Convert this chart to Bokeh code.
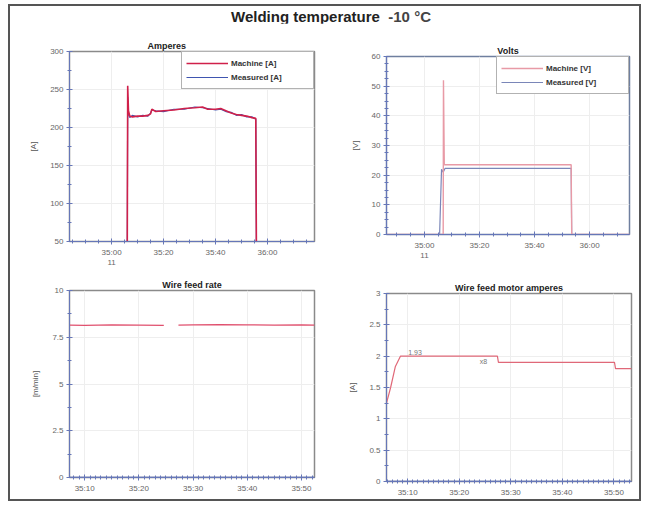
import numpy as np
from bokeh.plotting import figure
from bokeh.models import FixedTicker, Div, Label
from bokeh.layouts import column, row
from bokeh.embed import file_html
from bokeh.resources import INLINE

NAN = float("nan")

# ---------------- data (time in seconds after 11:35:00) ----------------
amp_t = [-16, 6.0, 6.2, 6.5, 7, 8, 10, 12, 14, 15, 15.5, 17, 20, 24, 28, 32, 35, 37, 40, 42, 44, 46, 48, 50, 52, 54, 55.5, 55.8, 78]
amp_machine = [0, 0, 255, 222, 215, 214, 215, 215, 216, 218, 224, 221, 222, 223, 225, 226, 227, 224, 224, 225, 222, 219, 217, 216, 215, 213, 212, 0, 0]
amp_measured = [0, 0, 240, 218, 213, 216, 214, 216, 215, 219, 223, 222, 221, 224, 224, 227, 226, 225, 223, 224, 221, 220, 216, 217, 214, 214, 211, 0, 0]

volt_t_machine = [-14, 6.8, 6.9, 7.2, 8, 30, 53.3, 53.5, 75]
volt_machine = [0, 0, 52, 23.5, 23.5, 23.5, 23.5, 0, 0]
volt_t_measured = [-14, 5.5, 6.2, 6.8, 7.5, 8.5, 30, 53.3, 53.5, 75]
volt_measured = [0, 0, 22, 21, 22.3, 22.3, 22.3, 22.3, 0, 0]

wf_t = [7.2, 10, 15, 20, 24.6, 25.0, 27.3, 30, 35, 40, 45, 50, 52.4]
wf_machine = [8.15, 8.14, 8.16, 8.15, 8.14, NAN, 8.15, 8.16, 8.17, 8.16, 8.15, 8.16, 8.15]
wf_measured = [0, 0, 0, 0, 0, 0, 0, 0, 0, 0, 0, 0, 0]

mot_t = [5.9, 6.7, 7.6, 8.6, 27.4, 27.6, 50.1, 50.3, 53.4]
mot_machine = [1.25, 1.5, 1.83, 2.0, 2.0, 1.9, 1.9, 1.8, 1.8]
mot_measured = [0, 0, 0, 0, 0, 0, 0, 0, 0]

top_ticks = [0, 20, 40, 60]
top_labels = ["35:00\n11", "35:20", "35:40", "36:00"]
bot_ticks = [10, 20, 30, 40, 50]
bot_labels = ["35:10", "35:20", "35:30", "35:40", "35:50"]

amp_yticks = [50, 100, 150, 200, 250, 300]
volt_yticks = [0, 10, 20, 30, 40, 50, 60]
wf_yticks = [0, 2.5, 5, 7.5, 10]
wf_ylabels = ["0", "2.5", "5", "7.5", "10"]
mot_yticks = [0, 0.5, 1, 1.5, 2, 2.5, 3]
mot_ylabels = ["0", "0.5", "1", "1.5", "2", "2.5", "3"]

FONT = "Liberation Sans"
AXIS_COL = "#6677b8"
RED = "#d0204a"
PINK = "#e89aa6"
BLUE = "#3f55b0"


def make_fig(title, fw, fh, bl, br, bt, bb, xr, yr):
    p = figure(frame_width=fw, frame_height=fh, x_range=xr, y_range=yr,
               output_backend="svg", toolbar_location=None,
               min_border_left=bl, min_border_right=br,
               min_border_top=bt, min_border_bottom=bb)
    p.title.text = title
    p.title.text_font = FONT
    p.title.text_font_size = "9px"
    p.title.text_font_style = "bold"
    p.title.text_color = "#222222"
    p.title.align = "center"
    p.title.standoff = 2
    p.outline_line_color = "#8a8a8a"
    p.outline_line_width = 1.5
    p.background_fill_color = "white"
    p.border_fill_color = "white"
    for ax in (p.xaxis[0], p.yaxis[0]):
        ax.axis_line_color = AXIS_COL
        ax.major_tick_line_color = AXIS_COL
        ax.minor_tick_line_color = AXIS_COL
        ax.major_tick_in = 3
        ax.major_tick_out = 3
        ax.minor_tick_in = 2
        ax.minor_tick_out = 2
        ax.major_label_text_font = FONT
        ax.major_label_text_font_size = "8px"
        ax.major_label_text_color = "#666666"
        ax.axis_label_text_font = FONT
        ax.axis_label_text_font_size = "8px"
        ax.axis_label_text_font_style = "normal"
        ax.axis_label_text_color = "#555555"
        ax.major_label_standoff = 3
        ax.axis_label_standoff = 9
    p.grid.grid_line_color = "#eeeeee"
    return p


def set_x(p, ticks, labels, minor):
    p.xaxis[0].ticker = FixedTicker(ticks=ticks, minor_ticks=minor)
    p.xaxis[0].major_label_overrides = {t: l for t, l in zip(ticks, labels)}
    p.xgrid[0].ticker = FixedTicker(ticks=ticks)


def set_y(p, ticks, labels, minor):
    p.yaxis[0].ticker = FixedTicker(ticks=ticks, minor_ticks=minor)
    if labels is not None:
        p.yaxis[0].major_label_overrides = {t: l for t, l in zip(ticks, labels)}
    p.ygrid[0].ticker = FixedTicker(ticks=ticks)


def legend_style(p):
    items = p.legend.items
    p.legend.items = [items[1], items[0]]
    p.legend.location = "top_right"
    p.legend.margin = 0
    p.legend.padding = 4
    p.legend.spacing = 0
    p.legend.glyph_width = 42
    p.legend.glyph_height = 14
    p.legend.label_width = 78
    p.legend.label_standoff = 3
    p.legend.label_text_font = FONT
    p.legend.label_text_font_size = "8px"
    p.legend.label_text_font_style = "bold"
    p.legend.label_text_color = "#333333"
    p.legend.border_line_color = "#666666"
    p.legend.border_line_width = 1
    p.legend.background_fill_alpha = 1


# ---------------- Amperes ----------------
p1 = make_fig("Amperes", 245, 190, 59, 10, 28, 32, (-16.2, 78.1), (50, 300))
p1.title.align = "left"
p1.title.offset = 78
set_x(p1, top_ticks, top_labels, list(np.arange(-15, 78, 5)))
set_y(p1, amp_yticks, None, list(np.arange(50, 301, 25)))
p1.yaxis[0].axis_label = "[A]"
p1.line(amp_t, amp_measured, color=BLUE, line_width=1.2, legend_label="Measured [A]")
p1.line(amp_t, amp_machine, color=RED, line_width=1.6, legend_label="Machine [A]")
legend_style(p1)

# ---------------- Volts ----------------
p2 = make_fig("Volts", 243, 178, 62, 10, 33, 36, (-13.8, 74.5), (0, 60))
set_x(p2, top_ticks, top_labels, list(np.arange(-10, 75, 5)))
set_y(p2, volt_yticks, None, list(np.arange(0, 61, 2.5)))
p2.yaxis[0].axis_label = "[V]"
p2.line(volt_t_measured, volt_measured, color="#7a86b8", line_width=1.2, legend_label="Measured [V]")
p2.line(volt_t_machine, volt_machine, color=PINK, line_width=1.4, legend_label="Machine [V]")
legend_style(p2)
p2.outline_line_color = "#6f7f9f"

# ---------------- Wire feed rate ----------------
p3 = make_fig("Wire feed rate", 245, 187, 57, 12, 17, 18, (7.2, 52.4), (0, 10))
set_x(p3, bot_ticks, bot_labels, list(np.arange(8, 53, 1)))
set_y(p3, wf_yticks, wf_ylabels, list(np.arange(0, 10.1, 1.25)))
p3.yaxis[0].axis_label = "[m/min]"
p3.line(wf_t, wf_measured, color=BLUE, line_width=1.5)
p3.line(wf_t, wf_machine, color="#e0506e", line_width=1.2)

# ---------------- Wire feed motor amperes ----------------
p4 = make_fig("Wire feed motor amperes", 245, 188, 62, 8, 23, 14, (5.9, 53.4), (0, 3))
set_x(p4, bot_ticks, bot_labels, list(np.arange(6, 54, 1)))
set_y(p4, mot_yticks, mot_ylabels, list(np.arange(0, 3.01, 0.25)))
p4.yaxis[0].axis_label = "[A]"
p4.line(mot_t, mot_measured, color=BLUE, line_width=1.5)
p4.line(mot_t, mot_machine, color="#e06878", line_width=1.2)
p4.add_layout(Label(x=mot_t[3] + 1.5, y=mot_machine[3], text="1.93", text_font=FONT,
                    text_font_size="7px", text_color="#777777", y_offset=1))
p4.add_layout(Label(x=24.0, y=mot_machine[4], text="x8", text_font=FONT,
                    text_font_size="7px", text_color="#777777", y_offset=-9))

# ---------------- layout ----------------
title = Div(text="<b>Welding temperature</b>&nbsp; <b style='color:#444'>-10 °C</b>",
            width=628, height=17, margin=0,
            styles={"font-family": FONT, "font-size": "15px", "text-align": "center",
                    "color": "#222", "line-height": "21px", "text-indent": "14px"})

page = column(title,
              row(column(p1, p3, spacing=0), column(p2, p4, spacing=0), spacing=0),
              spacing=0,
              styles={"border": "2px solid #555555", "background": "white",
                      "margin-left": "8px", "margin-top": "4px"})

open("out.html", "w").write(file_html(page, INLINE))
